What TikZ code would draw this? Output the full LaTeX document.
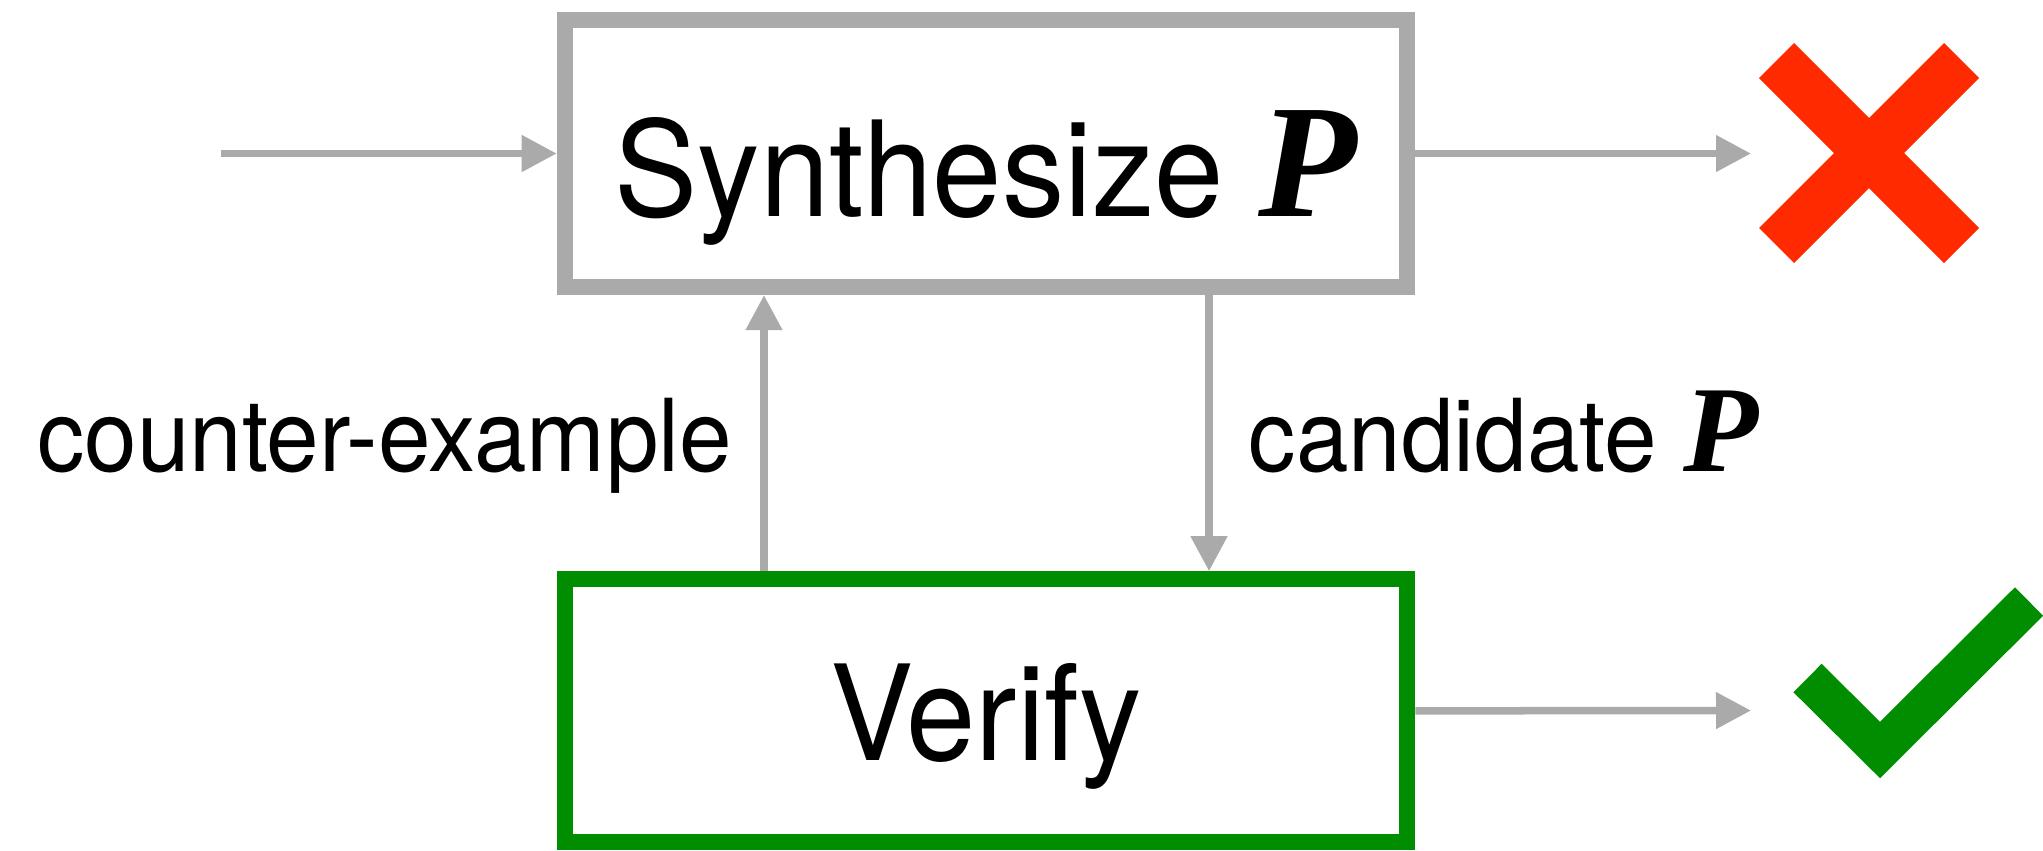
\documentclass[tikz,border=0pt]{standalone}
\usepackage{fontspec}
\setmainfont{TeX Gyre Heros}[FakeStretch=0.94]
\newfontfamily\progfont{Liberation Serif}
\usetikzlibrary{arrows.meta,positioning}
\definecolor{flowgray}{HTML}{AAAAAA}
\definecolor{okgreen}{HTML}{008E00}
\definecolor{badred}{HTML}{FF2A00}
\newcommand{\progP}[1]{{\progfont\bfseries\itshape\fontsize{#1}{#1}\selectfont P}}

\begin{document}
\begin{tikzpicture}[x=0.01cm, y=-0.01cm,
  stage/.style={draw, line width=0.16cm, minimum width=8.42cm, inner sep=0pt, text depth=0pt, font=\fontsize{37.7}{40}\selectfont},
  flow/.style={draw=flowgray, line width=0.075cm, -{Triangle[length=0.35cm, width=0.35cm]}},
  lbl/.style={inner sep=0pt, font=\fontsize{28.6}{30}\selectfont}]
\useasboundingbox (0,0) rectangle (2043,850);

\node[stage, draw=flowgray, minimum height=2.67cm, text height=1.25cm] (synth) at (986,153.5) {Synthesize \progP{46}};
\node[stage, draw=okgreen, minimum height=2.63cm, text height=0.99cm, below=2.76cm of synth] (verify) {Verify};

\coordinate (in) at (221,153.5);
\coordinate (no) at (1751,153.5);
\coordinate (yes) at (1751,710.5);
\coordinate (ce) at (764,0);
\coordinate (cd) at (1209,0);

\draw[flow] (in) -- (synth.west);
\draw[flow] (synth.east) -- (no);
\draw[flow] (verify.east) -- (yes);
\draw[flow] (verify.north -| ce) -- node[lbl, anchor=base east, xshift=-0.28cm, yshift=-0.38cm] {counter-example} (synth.south -| ce);
\draw[flow] (synth.south -| cd) -- node[lbl, anchor=base west, xshift=0.36cm, yshift=-0.38cm] {candidate \progP{35}} (verify.north -| cd);

\draw[badred, line width=0.495cm] (1776.5,60.5) -- (1961.5,245.5) (1961.5,60.5) -- (1776.5,245.5);
\draw[okgreen, line width=0.40cm] (1807.5,678) -- (1880,750) -- (2029,601.5);
\end{tikzpicture}
\end{document}
